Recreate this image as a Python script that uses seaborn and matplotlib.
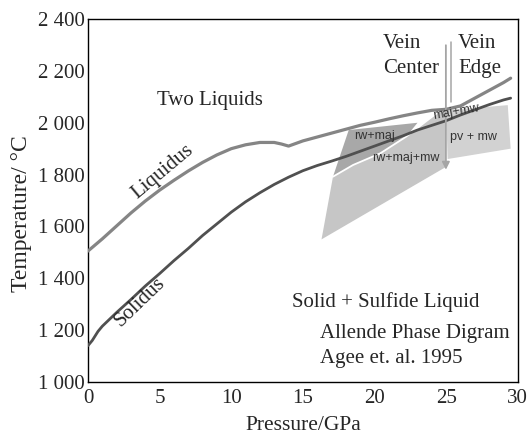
import numpy as np
import pandas as pd
import matplotlib
matplotlib.use('Agg')
import matplotlib.pyplot as plt
import seaborn as sns

# ---- data (Pressure GPa, Temperature C) ----
liq_p = [0, 1, 2, 3, 4, 5, 6, 7, 8, 9, 10, 11, 12, 13, 13.5, 14, 15, 16, 17, 18,
         19, 20, 21, 22, 23, 24, 25, 26, 27, 28, 29, 29.5]
liq_t = [1505, 1552, 1602, 1652, 1698, 1740, 1778, 1814, 1847, 1876, 1900, 1915,
         1924, 1924, 1918, 1910, 1930, 1945, 1960, 1975, 1990, 2002, 2015, 2027,
         2038, 2048, 2052, 2065, 2095, 2125, 2155, 2172]

sol_p = [0, 0.3, 0.7, 1, 2, 3, 4, 5, 6, 7, 8, 9, 10, 11, 12, 13, 14, 15, 16, 17,
         18, 19, 20, 21, 22, 23, 24, 25, 26, 27, 28, 29, 29.5]
sol_t = [1140, 1160, 1195, 1215, 1268, 1318, 1370, 1418, 1468, 1515, 1565, 1610,
         1655, 1695, 1730, 1762, 1790, 1815, 1835, 1852, 1870, 1890, 1910, 1930,
         1950, 1972, 1990, 2008, 2030, 2050, 2070, 2088, 2095]

# phase fields
rwmajmw_p = [16.3, 17.1, 18.5, 20.4, 22.2, 23.7, 24.3, 25.0, 25.0]
rwmajmw_t = [1550, 1792, 1837, 1882, 1946, 2010, 2035, 2050, 1830]
pvmw_p = [25.0, 26.5, 29.3, 29.5, 25.1]
pvmw_t = [2050, 2055, 2068, 1900, 1860]
rwmaj_p = [18.2, 23.0, 22.2, 20.4, 18.5, 17.1]
rwmaj_t = [1972, 2000, 1946, 1882, 1837, 1792]
# white boundary line
bound_p = [17.1, 18.5, 20.4, 22.2, 23.7, 24.3]
bound_t = [1792, 1837, 1882, 1946, 2010, 2035]

xticks = [0, 5, 10, 15, 20, 25, 30]
yticks = [1000, 1200, 1400, 1600, 1800, 2000, 2200, 2400]
ylabels = ['1 000', '1 200', '1 400', '1 600', '1 800', '2 000', '2 200', '2 400']

sns.set_theme(style='white')
plt.rcParams['font.family'] = ['Liberation Serif', 'DejaVu Serif']
plt.rcParams['xtick.direction'] = 'in'
plt.rcParams['ytick.direction'] = 'in'

fig = plt.figure(figsize=(5.3, 4.34), dpi=100)
ax = fig.add_axes([0.166, 0.12, 0.811, 0.836])

# shaded phase regions
ax.fill(rwmajmw_p, rwmajmw_t, color='#c6c6c6', lw=0, zorder=1)
ax.fill(pvmw_p, pvmw_t, color='#d2d2d2', lw=0, zorder=1)
ax.fill(rwmaj_p, rwmaj_t, color='#a8a8a8', lw=0, zorder=1)
ax.plot(bound_p, bound_t, color='white', lw=1.3, zorder=2)

liq = pd.DataFrame({'P': liq_p, 'T': liq_t})
sol = pd.DataFrame({'P': sol_p, 'T': sol_t})
sns.lineplot(data=liq, x='P', y='T', color='#858585', lw=2.3, sort=False, ax=ax, zorder=3)
sns.lineplot(data=sol, x='P', y='T', color='#505050', lw=2.0, sort=False, ax=ax, zorder=3)

# vein arrows
ax.annotate('', xy=(24.98, 1808), xytext=(24.98, 2310),
            arrowprops=dict(arrowstyle='-|>', color='#a5a5a5', lw=1.3,
                            mutation_scale=11), zorder=4)
ax.plot([25.37, 25.37], [2310, 2080], color='#a5a5a5', lw=1.1, zorder=4)

fs = 15
ax.text(20.6, 2307, 'Vein', ha='left', va='center', fontsize=fs)
ax.text(20.6, 2211, 'Center', ha='left', va='center', fontsize=fs)
ax.text(25.82, 2307, 'Vein', ha='left', va='center', fontsize=fs)
ax.text(25.82, 2211, 'Edge', ha='left', va='center', fontsize=fs)

ax.text(8.5, 2087, 'Two Liquids', ha='center', va='center', fontsize=fs)
ax.text(5.2, 1812, 'Liquidus', ha='center', va='center', fontsize=fs, rotation=40)
ax.text(3.6, 1307, 'Solidus', ha='center', va='center', fontsize=fs, rotation=44)
ax.text(20.8, 1310, 'Solid + Sulfide Liquid', ha='center', va='center', fontsize=fs)
ax.text(16.2, 1188, 'Allende Phase Digram', ha='left', va='center', fontsize=fs)
ax.text(16.2, 1091, 'Agee et. al. 1995', ha='left', va='center', fontsize=fs)

sfs = 9
sans = ['Liberation Sans', 'DejaVu Sans']
ax.text(20.0, 1949, 'rw+maj', ha='center', va='center', fontsize=sfs, family=sans, color='#333333', zorder=5)
ax.text(22.2, 1865, 'rw+maj+mw', ha='center', va='center', fontsize=sfs, family=sans, color='#333333', zorder=5)
ax.text(25.7, 2042, 'maj+mw', ha='center', va='center', fontsize=sfs, family=sans, color='#333333', rotation=10, zorder=5)
ax.text(26.9, 1946, 'pv + mw', ha='center', va='center', fontsize=sfs, family=sans, color='#333333', zorder=5)

ax.set_xlim(0, 30)
ax.set_ylim(1000, 2400)
ax.set_xticks(xticks)
ax.set_yticks(yticks)
ax.set_yticklabels(ylabels)
ax.tick_params(axis='both', labelsize=fs, length=7, width=1, color='black',
               top=False, right=False)
ax.tick_params(axis='x', pad=5)
ax.tick_params(axis='y', pad=2)
for s in ax.spines.values():
    s.set_color('black')
    s.set_linewidth(1)
ax.set_xlabel('Pressure/GPa', fontsize=15.5, labelpad=6)
ax.set_ylabel('Temperature/ \u00b0C', fontsize=17, labelpad=3)
ax.yaxis.set_label_coords(-0.13, 0.463)

fig.savefig('out.png', dpi=100)
